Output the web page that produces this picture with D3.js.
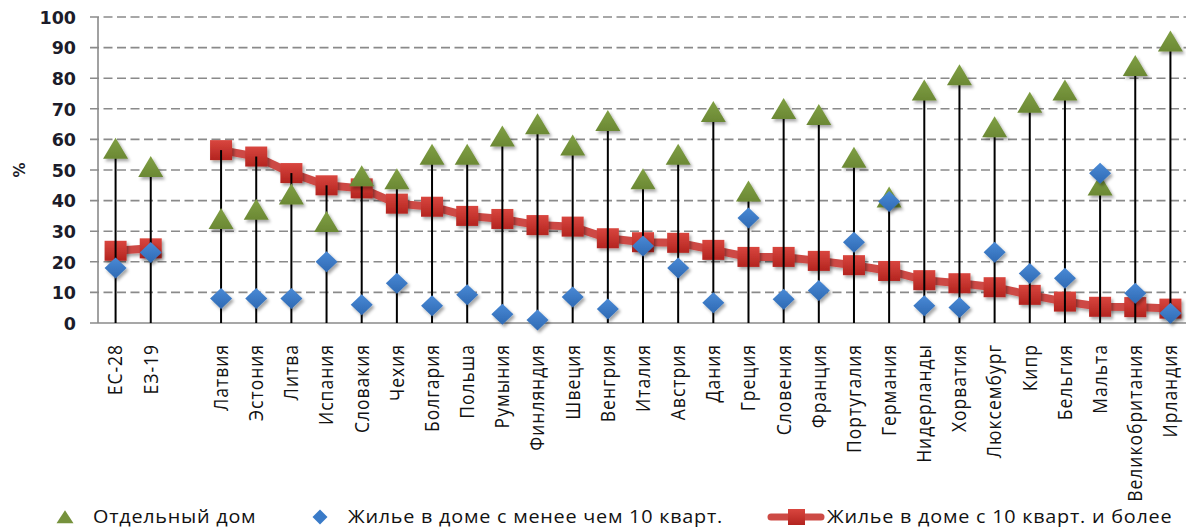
<!DOCTYPE html>
<html>
<head>
<meta charset="utf-8">
<script src="https://cdn.jsdelivr.net/npm/d3@7"></script>
<style>
  body { margin: 0; background: #fff; }
  svg { display: block; }
</style>
</head>
<body>
<svg id="chart" width="1186" height="530"></svg>
<script>
// Dwelling type shares, % of population
const categories = ["ЕС-28", "ЕЗ-19", "", "Латвия", "Эстония", "Литва", "Испания", "Словакия", "Чехия",
  "Болгария", "Польша", "Румыния", "Финляндия", "Швеция", "Венгрия", "Италия", "Австрия", "Дания",
  "Греция", "Словения", "Франция", "Португалия", "Германия", "Нидерланды", "Хорватия", "Люксембург",
  "Кипр", "Бельгия", "Мальта", "Великобритания", "Ирландия"];

const detachedHouse = [57, 51, null, 34, 37, 42, 33, 48, 47, 55, 55, 61, 65, 58, 66, 47, 55, 69,
  43, 70, 68, 54, 41, 76, 81, 64, 72, 76, 45, 84, 92];

const smallBlock = [18, 23, null, 8, 8, 8, 20, 6, 13, 5.6, 9.2, 2.9, 1, 8.5, 4.6, 25.2, 18, 6.6,
  34.3, 7.8, 10.6, 26.4, 39.7, 5.6, 5.1, 23.1, 16.2, 14.6, 48.9, 9.7, 3.2];

const largeBlock = [23.6, 24.4, null, 56.5, 54.4, 49, 45, 44, 39, 38, 35, 34, 32, 31.5, 27.7, 26.4,
  26.2, 23.9, 21.6, 21.6, 20.3, 18.9, 17, 14, 13, 11.7, 9.2, 7, 5.3, 5.2, 4.7];

const yTicks = [0, 10, 20, 30, 40, 50, 60, 70, 80, 90, 100];

const seriesNames = ["Отдельный дом", "Жилье в доме с менее чем 10 кварт.", "Жилье в доме с 10 кварт. и более"];

const svg = d3.select("#chart");
const idx = d3.range(categories.length);

const x = d3.scaleBand().domain(idx).range([98, 1188]).padding(0);
const cx = i => x(i) + x.bandwidth() / 2;
const y = d3.scaleLinear().domain([0, 100]).range([323, 17]);

// defs: shadow + gradients
const defs = svg.append("defs");
const sh = defs.append("filter").attr("id", "shadow").attr("x", "-50%").attr("y", "-50%")
  .attr("width", "200%").attr("height", "200%");
sh.append("feDropShadow").attr("dx", 2).attr("dy", 2.5).attr("stdDeviation", 1.6)
  .attr("flood-color", "#000").attr("flood-opacity", 0.35);

const gSq = defs.append("linearGradient").attr("id", "sqGrad").attr("x1", 0).attr("y1", 0).attr("x2", 0).attr("y2", 1);
gSq.append("stop").attr("offset", "0%").attr("stop-color", "#d9463f");
gSq.append("stop").attr("offset", "100%").attr("stop-color", "#b3241f");

const gDi = defs.append("linearGradient").attr("id", "diGrad").attr("x1", 0).attr("y1", 0).attr("x2", 0).attr("y2", 1);
gDi.append("stop").attr("offset", "0%").attr("stop-color", "#4a8ad6");
gDi.append("stop").attr("offset", "100%").attr("stop-color", "#2e69b3");

const gTr = defs.append("linearGradient").attr("id", "trGrad").attr("x1", 0).attr("y1", 0).attr("x2", 0).attr("y2", 1);
gTr.append("stop").attr("offset", "0%").attr("stop-color", "#80a044");
gTr.append("stop").attr("offset", "100%").attr("stop-color", "#6b8834");

// gridlines
svg.append("g").selectAll("line").data(yTicks.filter(t => t > 0)).join("line")
  .attr("x1", 90).attr("x2", 1186)
  .attr("y1", d => y(d)).attr("y2", d => y(d))
  .attr("stroke", "#8a8a8a").attr("stroke-width", 1.6)
  .attr("stroke-dasharray", "9,4.5");

// baseline and value axis line
svg.append("line").attr("x1", 90).attr("x2", 1186).attr("y1", y(0)).attr("y2", y(0))
  .attr("stroke", "#8a8a8a").attr("stroke-width", 1.6);
svg.append("line").attr("x1", 98).attr("x2", 98).attr("y1", y(100)).attr("y2", y(0))
  .attr("stroke", "#8a8a8a").attr("stroke-width", 1.6);

// y axis labels
const yAxis = d3.axisLeft(y).tickValues(yTicks).tickSize(0).tickPadding(0);
const ya = svg.append("g").attr("transform", "translate(76,0)").call(yAxis);
ya.select(".domain").remove();
ya.selectAll("text").attr("font-family", "DejaVu Sans").attr("font-weight", "bold")
  .attr("font-size", 17.5).attr("fill", "#1c1c2a").attr("dy", "0.36em");

svg.append("text").attr("transform", "translate(25,170) rotate(-90)")
  .attr("text-anchor", "middle").attr("font-family", "DejaVu Sans").attr("font-weight", "bold")
  .attr("font-size", 15).attr("fill", "#1c1c2a").text("%");

// category labels
const xAxis = d3.axisBottom(x).tickSize(0).tickFormat(i => categories[i]);
const xa = svg.append("g").attr("transform", `translate(0,${y(0)})`).call(xAxis);
xa.select(".domain").remove();
xa.selectAll("text")
  .attr("font-family", "Open Sans").attr("font-size", 17.5).attr("fill", "#111")
  .attr("letter-spacing", 1.0)
  .attr("text-anchor", "end").attr("y", 0).attr("x", -21).attr("dy", "0.35em")
  .attr("transform", "scale(1.12,1) rotate(-90)");

// red line series
const line = d3.line().defined(d => d != null).x((d, i) => cx(i)).y(d => y(d));
svg.append("path").datum(largeBlock).attr("d", line)
  .attr("fill", "none").attr("stroke", "#cd4a45").attr("stroke-width", 8)
  .attr("filter", "url(#shadow)");
svg.append("g").attr("filter", "url(#shadow)").selectAll("rect")
  .data(idx.filter(i => largeBlock[i] != null)).join("rect")
  .attr("x", i => cx(i) - 11).attr("y", i => y(largeBlock[i]) - 10)
  .attr("width", 22).attr("height", 20).attr("fill", "url(#sqGrad)");

// drop lines from the highest value of each category to the axis
svg.append("g").selectAll("line")
  .data(idx.filter(i => detachedHouse[i] != null)).join("line")
  .attr("x1", cx).attr("x2", cx)
  .attr("y1", i => y(Math.max(detachedHouse[i], smallBlock[i], largeBlock[i])))
  .attr("y2", y(0)).attr("stroke", "#000").attr("stroke-width", 2);

// triangles
const tri = (w, h) => `M0,${-h * 0.52}L${w / 2},${h * 0.48}L${-w / 2},${h * 0.48}Z`;
svg.append("g").attr("filter", "url(#shadow)").selectAll("path")
  .data(idx.filter(i => detachedHouse[i] != null)).join("path")
  .attr("transform", i => `translate(${cx(i)},${y(detachedHouse[i])})`)
  .attr("d", tri(25, 21)).attr("fill", "url(#trGrad)");

// diamonds
const dia = (w, h) => `M0,${-h / 2}L${w / 2},0L0,${h / 2}L${-w / 2},0Z`;
svg.append("g").attr("filter", "url(#shadow)").selectAll("path")
  .data(idx.filter(i => smallBlock[i] != null)).join("path")
  .attr("transform", i => `translate(${cx(i)},${y(smallBlock[i])})`)
  .attr("d", dia(22, 21)).attr("fill", "url(#diGrad)");

// legend
const leg = svg.append("g");
const ly = 517;
leg.append("path").attr("transform", `translate(65,${ly})`).attr("d", tri(17, 13)).attr("fill", "#76923c");
leg.append("path").attr("transform", `translate(320,${ly})`).attr("d", dia(15, 15)).attr("fill", "#3a7bc8");
leg.append("line").attr("x1", 771).attr("x2", 821).attr("y1", ly).attr("y2", ly)
  .attr("stroke", "#cd4a45").attr("stroke-width", 7).attr("stroke-linecap", "round");
leg.append("rect").attr("x", 788).attr("y", ly - 8).attr("width", 17).attr("height", 16).attr("fill", "url(#sqGrad)");
const legX = [93, 348, 827];
leg.selectAll("text").data(seriesNames).join("text")
  .attr("transform", (d, i) => `translate(${legX[i]},${ly}) scale(1.1,1)`)
  .attr("dy", "0.36em")
  .attr("font-family", "Open Sans").attr("font-size", 18).attr("fill", "#111")
  .attr("letter-spacing", 0.7)
  .text(d => d);
</script>
</body>
</html>
